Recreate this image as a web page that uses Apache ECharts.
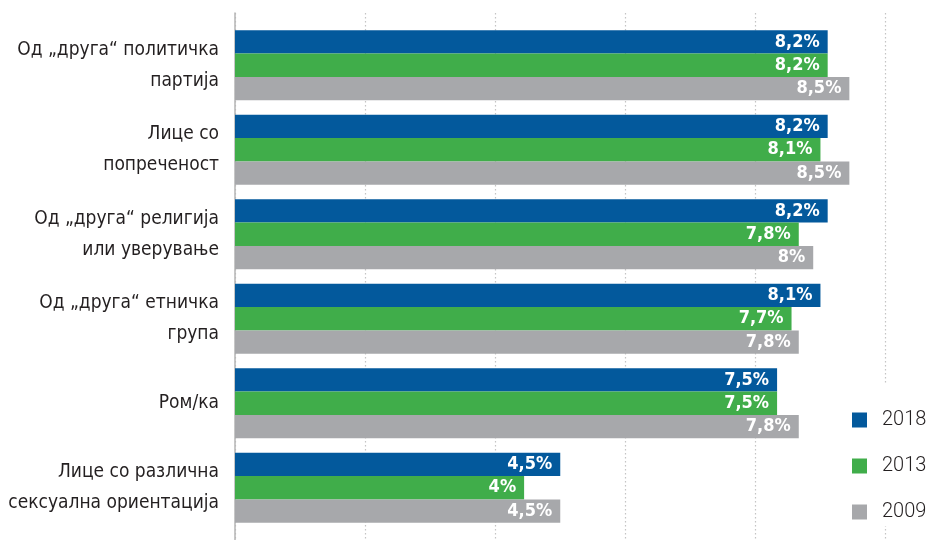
<!DOCTYPE html>
<html>
<head>
<meta charset="utf-8">
<script src="https://cdn.jsdelivr.net/npm/echarts@6/dist/echarts.min.js"></script>
<style>html,body{margin:0;padding:0;background:#fff;}#c{width:928px;height:540px;}</style>
</head>
<body>
<div id="c"></div>
<script>
const categories = [
  'Од „друга“ политичка\nпартија',
  'Лице со\nпопреченост',
  'Од „друга“ религија\nили уверување',
  'Од „друга“ етничка\nгрупа',
  'Ром/ка',
  'Лице со различна\nсексуална ориентација'
];
const seriesNames = ['2018', '2013', '2009'];
const values2018 = [8.2, 8.2, 8.2, 8.1, 7.5, 4.5];
const values2013 = [8.2, 8.1, 7.8, 7.7, 7.5, 4.0];
const values2009 = [8.5, 8.5, 8.0, 7.8, 7.8, 4.5];
const colors = ['#03599c', '#40ad4a', '#a7a8ab'];

const condFont = '"DejaVu Sans Condensed", "Roboto", sans-serif';
const chart = echarts.init(document.getElementById('c'));
const fmt = p => String(p.value).replace('.', ',') + '%';
const mk = (name, data, color) => ({
  name: name,
  type: 'bar',
  xAxisIndex: 0,
  yAxisIndex: 0,
  data: data,
  itemStyle: { color: color },
  barGap: '0%',
  barCategoryGap: '17%',
  label: {
    show: true,
    position: 'insideRight',
    distance: 8,
    color: '#ffffff',
    fontFamily: condFont,
    fontWeight: 'bold',
    fontSize: 18,
    formatter: fmt
  },
  z: 3
});

chart.setOption({
  animation: false,
  backgroundColor: '#ffffff',
  color: colors,
  grid: [
    { left: 235, right: 42.5, top: 23, bottom: 10, containLabel: false },
    { left: 235, right: 42.5, top: 13, bottom: 0, containLabel: false }
  ],
  legend: {
    orient: 'vertical',
    left: 847,
    top: 383,
    padding: [27, 5, 4, 5],
    backgroundColor: '#ffffff',
    icon: 'rect',
    itemWidth: 15,
    itemHeight: 15,
    itemGap: 26,
    data: seriesNames,
    textStyle: {
      fontFamily: 'Roboto',
      fontWeight: 300,
      fontSize: 20,
      color: '#231f20',
      lineHeight: 16,
      padding: [0, 0, 0, 10]
    },
    z: 5
  },
  xAxis: [
    { gridIndex: 0, type: 'value', min: 0, max: 9, interval: 1.8,
      axisLine: { show: false }, axisTick: { show: false }, axisLabel: { show: false }, splitLine: { show: false } },
    { gridIndex: 1, type: 'value', min: 0, max: 9, interval: 1.8,
      axisLine: { show: false }, axisTick: { show: false }, axisLabel: { show: false },
      splitLine: { show: true, lineStyle: { color: '#c4c4c4', type: [1.5, 2.5], width: 1.2 } } }
  ],
  yAxis: [
    { gridIndex: 0, type: 'category', inverse: true, data: categories,
      axisLine: { show: false }, axisTick: { show: false }, splitLine: { show: false },
      axisLabel: {
        margin: 16,
        color: '#231f20',
        fontFamily: condFont,
        fontSize: 19,
        lineHeight: 31,
        padding: [5, 0, 0, 0],
        align: 'right'
      } },
    { gridIndex: 1, type: 'value', min: 0, max: 1,
      axisLine: { show: true, onZero: false, lineStyle: { color: '#b4b4b4', width: 1.5 } },
      axisTick: { show: false }, axisLabel: { show: false }, splitLine: { show: false } }
  ],
  series: [
    mk(seriesNames[0], values2018, colors[0]),
    mk(seriesNames[1], values2013, colors[1]),
    mk(seriesNames[2], values2009, colors[2])
  ]
});
</script>
</body>
</html>
